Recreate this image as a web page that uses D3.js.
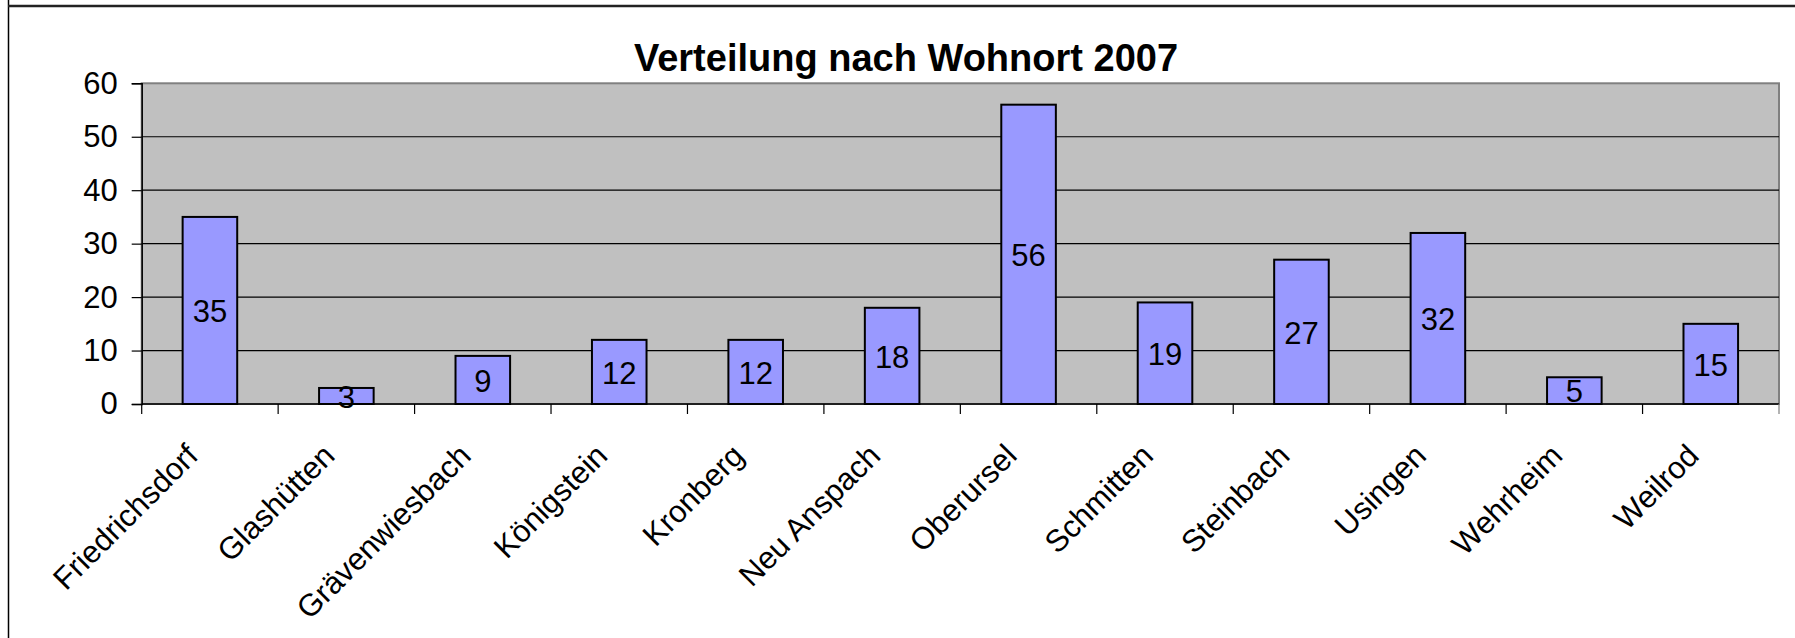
<!DOCTYPE html>
<html>
<head>
<meta charset="utf-8">
<script src="https://cdnjs.cloudflare.com/ajax/libs/d3/7.8.5/d3.min.js"></script>
<style>
  body { margin: 0; background: #fff; }
  svg { display: block; font-family: Arial, "Liberation Sans", sans-serif; }
</style>
</head>
<body>
<svg id="chart" width="1795" height="638"></svg>
<script>
const title = "Verteilung nach Wohnort 2007";
const towns = [
  "Friedrichsdorf", "Glashütten", "Grävenwiesbach", "Königstein", "Kronberg",
  "Neu Anspach", "Oberursel", "Schmitten", "Steinbach", "Usingen", "Wehrheim", "Weilrod"
];
const counts = [35, 3, 9, 12, 12, 18, 56, 19, 27, 32, 5, 15];
const yTicks = [0, 10, 20, 30, 40, 50, 60];

const main = () => {
  const svg = d3.select("#chart");
  const left = 141.7, right = 1779, top = 83.3, bottom = 404;

  const x = d3.scaleBand().domain(towns).range([left, right]);
  const y = d3.scaleLinear().domain([0, 60]).range([bottom, top]);
  const barW = x.bandwidth() * 0.4;

  // outer frame
  svg.append("line")
    .attr("x1", 8.5).attr("x2", 8.5).attr("y1", 0).attr("y2", 638)
    .attr("stroke", "#000").attr("stroke-width", 1.5);
  svg.append("line")
    .attr("x1", 8).attr("x2", 1795).attr("y1", 6).attr("y2", 6)
    .attr("stroke", "#222").attr("stroke-width", 2.5);

  // plot area
  svg.append("rect")
    .attr("x", left).attr("y", top)
    .attr("width", right - left).attr("height", bottom - top)
    .attr("fill", "#c0c0c0")
    .attr("stroke", "#808080")
    .attr("stroke-width", 2);

  svg.append("g")
    .selectAll("line")
    .data(yTicks.filter((t) => t > 0 && t < 60))
    .enter()
    .append("line")
    .attr("x1", left).attr("x2", right)
    .attr("y1", (d) => y(d)).attr("y2", (d) => y(d))
    .attr("stroke", "#000").attr("stroke-width", 1.2);

  // y axis
  const yAxis = svg.append("g")
    .attr("transform", "translate(" + left + ",0)")
    .call(d3.axisLeft(y).tickValues(yTicks).tickSize(10).tickPadding(14));
  yAxis.select(".domain").attr("stroke", "#000").attr("stroke-width", 1.5);
  yAxis.selectAll(".tick line").attr("stroke", "#000").attr("stroke-width", 1.2);
  yAxis.selectAll(".tick text")
    .attr("font-size", 31).attr("fill", "#000")
    .attr("font-family", "Arial, 'Liberation Sans', sans-serif");

  // x axis: ticks at band boundaries
  const xAxis = svg.append("g").attr("transform", "translate(0," + bottom + ")");
  xAxis.append("line")
    .attr("x1", left).attr("x2", right)
    .attr("stroke", "#000").attr("stroke-width", 1.5);
  xAxis.selectAll("line.tk")
    .data(towns.concat(["end"]))
    .enter()
    .append("line")
    .attr("class", "tk")
    .attr("x1", (d, i) => left + i * x.step())
    .attr("x2", (d, i) => left + i * x.step())
    .attr("y1", 0).attr("y2", 10)
    .attr("stroke", (d, i) => (i === towns.length ? "#808080" : "#000"))
    .attr("stroke-width", 1.2);

  xAxis.selectAll("text")
    .data(towns)
    .enter()
    .append("text")
    .attr("transform", (d) =>
      "translate(" + (x(d) + x.bandwidth() / 2 - 10) + ",53.5) rotate(-45)")
    .attr("text-anchor", "end")
    .attr("font-size", 31)
    .attr("fill", "#000")
    .text((d) => d);

  // bars
  const bars = svg.append("g")
    .selectAll("g")
    .data(towns.map((t, i) => ({ town: t, value: counts[i] })))
    .enter()
    .append("g");

  bars.append("rect")
    .attr("x", (d) => x(d.town) + (x.bandwidth() - barW) / 2)
    .attr("y", (d) => y(d.value))
    .attr("width", barW)
    .attr("height", (d) => y(0) - y(d.value))
    .attr("fill", "#9999ff")
    .attr("stroke", "#000")
    .attr("stroke-width", 2);

  bars.append("text")
    .attr("x", (d) => x(d.town) + x.bandwidth() / 2)
    .attr("y", (d) => y(d.value / 2))
    .attr("dy", "0.38em")
    .attr("text-anchor", "middle")
    .attr("font-size", 31)
    .attr("fill", "#000")
    .text((d) => d.value);

  // title
  svg.append("text")
    .attr("x", 906)
    .attr("y", 71)
    .attr("text-anchor", "middle")
    .attr("font-size", 38)
    .attr("font-weight", "bold")
    .attr("fill", "#000")
    .text(title);
};

main();
</script>
</body>
</html>
